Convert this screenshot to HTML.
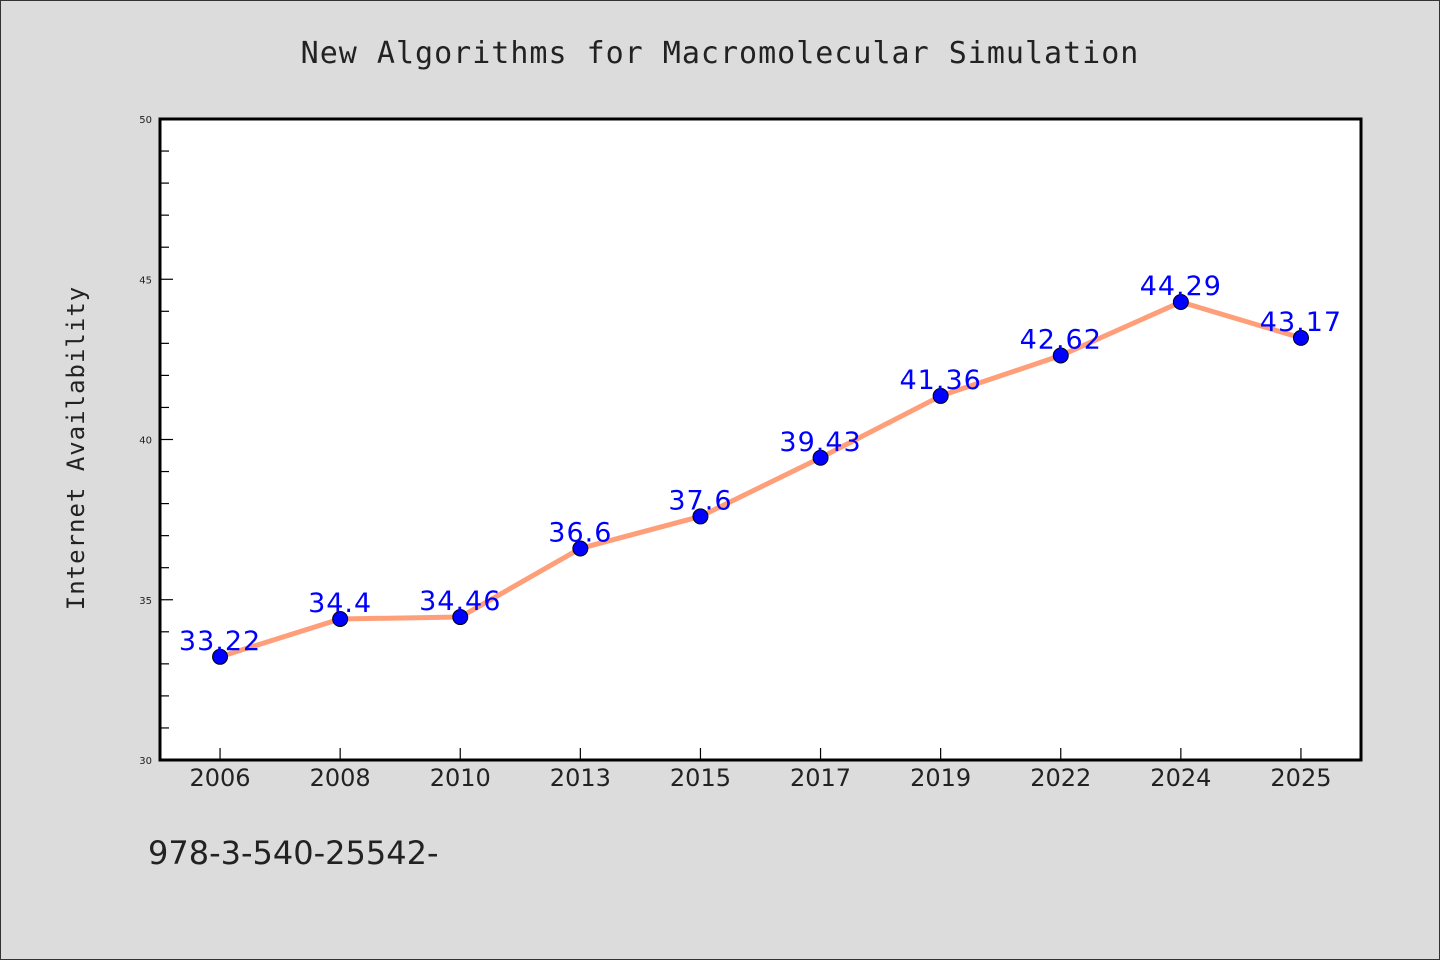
<!DOCTYPE html>
<html><head><meta charset="utf-8"><style>
body{margin:0;background:#dcdcdc;}
svg{display:block;}
</style></head><body>
<svg width="1440" height="960" viewBox="0 0 1440 960" xmlns="http://www.w3.org/2000/svg">
<rect x="0.5" y="0.5" width="1439" height="959" fill="#dcdcdc" stroke="#333"/>
<text x="720" y="63" text-anchor="middle" font-family="'DejaVu Sans Mono','Liberation Mono',monospace" font-size="30" fill="#222" letter-spacing="1">New Algorithms for Macromolecular Simulation</text>
<rect x="160" y="119" width="1201" height="641" fill="#fff"/>
<g id="axes"></g>
<g id="series"></g>
<rect x="160" y="119" width="1201" height="641" fill="none" stroke="#000" stroke-width="3"/>
<text transform="translate(84,448) rotate(-90)" text-anchor="middle" font-family="'DejaVu Sans Mono','Liberation Mono',monospace" font-size="24" fill="#222" letter-spacing="1">Internet Availability</text>
<text x="148" y="864" font-family="'DejaVu Sans','Liberation Sans',sans-serif" font-size="32" fill="#222">978-3-540-25542-</text>
</svg>
<script>
const categories=["2006","2008","2010","2013","2015","2017","2019","2022","2024","2025"];
const values=[33.22,34.4,34.46,36.6,37.6,39.43,41.36,42.62,44.29,43.17];
const labels=["33.22","34.4","34.46","36.6","37.6","39.43","41.36","42.62","44.29","43.17"];
const yTicks=[30,35,40,45,50];
const NS="http://www.w3.org/2000/svg";
const x0=160,x1=1361,yTop=119,yBot=760,yMin=30,yMax=50;
const step=(x1-x0)/categories.length;
function xs(i){return x0+step*(i+0.5);}
function ys(v){return yBot-(v-yMin)/(yMax-yMin)*(yBot-yTop);}
function mk(tag,attrs,parent){const e=document.createElementNS(NS,tag);for(const k in attrs)e.setAttribute(k,attrs[k]);parent.appendChild(e);return e;}
const ax=document.getElementById('axes'),sg=document.getElementById('series');
for(let v=yMin;v<=yMax;v++){
  const major=yTicks.includes(v);
  const l=mk('line',{x1:x0,x2:x0+(major?13:9),y1:ys(v),y2:ys(v),stroke:'#000','stroke-width':1.2},ax);
  
  
}
yTicks.forEach(v=>{
  const t=mk('text',{x:x0-8,y:ys(v)+4,'text-anchor':'end','font-family':"'DejaVu Sans',sans-serif",'font-size':10,fill:'#222'},ax);
  t.textContent=v;
  
  
});
categories.forEach((c,i)=>{
  const l=mk('line',{x1:xs(i),x2:xs(i),y1:yBot-12,y2:yBot,stroke:'#000','stroke-width':1.2},ax);
  
  
  const t=mk('text',{x:xs(i),y:yBot+26,'text-anchor':'middle','font-family':"'DejaVu Sans','Liberation Sans',sans-serif",'font-size':24,fill:'#222'},ax);
  t.textContent=c;
  
  
});
const pl=mk('polyline',{points:values.map((v,i)=>xs(i)+','+ys(v)).join(' '),fill:'none',stroke:'#ff9f7a','stroke-width':5,'stroke-linejoin':'round'},sg);


values.forEach((v,i)=>{
  const c=mk('circle',{cx:xs(i),cy:ys(v),r:7.5,fill:'#0000ff',stroke:'#000','stroke-width':1},sg);
  
  
  const t=mk('text',{x:xs(i),y:ys(v)-7,'text-anchor':'middle','font-family':"'DejaVu Sans','Liberation Sans',sans-serif",'font-size':27,fill:'#0000ff','letter-spacing':1},sg);
  t.textContent=labels[i];
  
  
});
</script>
</body></html>
